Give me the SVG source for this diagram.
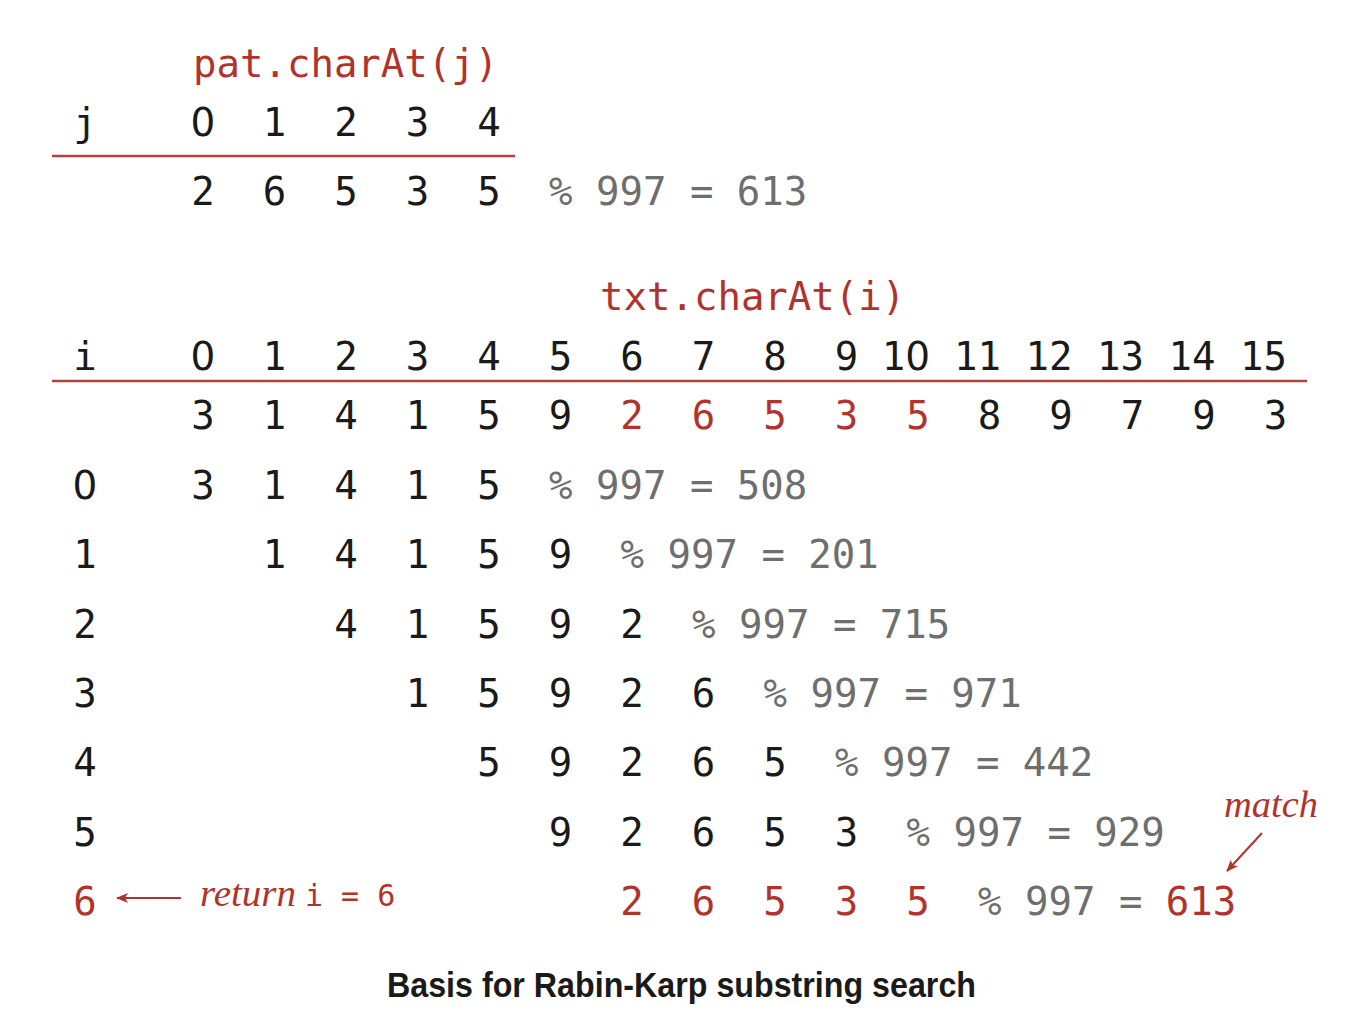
<svg xmlns="http://www.w3.org/2000/svg" width="1364" height="1036" viewBox="0 0 1364 1036">
<style>
.m{font-family:"DejaVu Sans Mono","Liberation Mono",monospace;font-size:39px;fill:#1a1a1a;text-anchor:middle}
.z{font-family:"DejaVu Sans",sans-serif}
.r{fill:#b0332c}
.g{fill:#6e6e6e;text-anchor:start}
.s{text-anchor:start}
.it{font-family:"Liberation Serif",serif;font-style:italic;font-size:37px;fill:#b0332c}
.rule{stroke:#b5433c;stroke-width:2.5}
.cap{font-family:"Liberation Sans",Arial,sans-serif;font-weight:bold;font-size:35px;fill:#1a1a1a}
</style>
<defs>
<marker id="ah" viewBox="0 0 12 10" refX="11" refY="5" markerWidth="12" markerHeight="10" markerUnits="userSpaceOnUse" orient="auto">
<path d="M0,0 L12,5 L0,10 L3,5 Z" fill="#b0332c"/>
</marker>
</defs>
<g id="pattern">
<text class="m r s" x="193" y="77">pat.charAt(j)</text>
<text class="m" x="85" y="136">j</text>
<text class="m z" x="203" y="136">0</text>
<text class="m" x="274.5" y="136">1</text>
<text class="m" x="346" y="136">2</text>
<text class="m" x="417.5" y="136">3</text>
<text class="m" x="489" y="136">4</text>
<line class="rule" x1="52" y1="156" x2="515" y2="156"/>
<text class="m" x="203" y="205">2</text>
<text class="m" x="274.5" y="205">6</text>
<text class="m" x="346" y="205">5</text>
<text class="m" x="417.5" y="205">3</text>
<text class="m" x="489" y="205">5</text>
<text class="m g" x="549" y="205">% 997 = 613</text>
</g>
<g id="text-header">
<text class="m r s" x="600" y="310">txt.charAt(i)</text>
<text class="m" x="85" y="370">i</text>
<text class="m z" x="203" y="370">0</text>
<text class="m" x="274.5" y="370">1</text>
<text class="m" x="346" y="370">2</text>
<text class="m" x="417.5" y="370">3</text>
<text class="m" x="489" y="370">4</text>
<text class="m" x="560.5" y="370">5</text>
<text class="m" x="632" y="370">6</text>
<text class="m" x="703.5" y="370">7</text>
<text class="m" x="775" y="370">8</text>
<text class="m" x="846.5" y="370">9</text>
<text class="m" x="906" y="370">1<tspan class="z">0</tspan></text>
<text class="m" x="977.5" y="370">11</text>
<text class="m" x="1049" y="370">12</text>
<text class="m" x="1120.5" y="370">13</text>
<text class="m" x="1192" y="370">14</text>
<text class="m" x="1263.5" y="370">15</text>
<line class="rule" x1="52" y1="381" x2="1307" y2="381"/>
<text class="m" x="203" y="429">3</text>
<text class="m" x="274.5" y="429">1</text>
<text class="m" x="346" y="429">4</text>
<text class="m" x="417.5" y="429">1</text>
<text class="m" x="489" y="429">5</text>
<text class="m" x="560.5" y="429">9</text>
<text class="m r" x="632" y="429">2</text>
<text class="m r" x="703.5" y="429">6</text>
<text class="m r" x="775" y="429">5</text>
<text class="m r" x="846.5" y="429">3</text>
<text class="m r" x="918" y="429">5</text>
<text class="m" x="989.5" y="429">8</text>
<text class="m" x="1061" y="429">9</text>
<text class="m" x="1132.5" y="429">7</text>
<text class="m" x="1204" y="429">9</text>
<text class="m" x="1275.5" y="429">3</text>
</g>
<g id="row0">
<text class="m z" x="85" y="499">0</text>
<text class="m" x="203" y="499">3</text>
<text class="m" x="274.5" y="499">1</text>
<text class="m" x="346" y="499">4</text>
<text class="m" x="417.5" y="499">1</text>
<text class="m" x="489" y="499">5</text>
<text class="m g" x="549" y="499">% 997 = 508</text>
</g>
<g id="row1">
<text class="m" x="85" y="568">1</text>
<text class="m" x="274.5" y="568">1</text>
<text class="m" x="346" y="568">4</text>
<text class="m" x="417.5" y="568">1</text>
<text class="m" x="489" y="568">5</text>
<text class="m" x="560.5" y="568">9</text>
<text class="m g" x="620.5" y="568">% 997 = 201</text>
</g>
<g id="row2">
<text class="m" x="85" y="638">2</text>
<text class="m" x="346" y="638">4</text>
<text class="m" x="417.5" y="638">1</text>
<text class="m" x="489" y="638">5</text>
<text class="m" x="560.5" y="638">9</text>
<text class="m" x="632" y="638">2</text>
<text class="m g" x="692" y="638">% 997 = 715</text>
</g>
<g id="row3">
<text class="m" x="85" y="707">3</text>
<text class="m" x="417.5" y="707">1</text>
<text class="m" x="489" y="707">5</text>
<text class="m" x="560.5" y="707">9</text>
<text class="m" x="632" y="707">2</text>
<text class="m" x="703.5" y="707">6</text>
<text class="m g" x="763.5" y="707">% 997 = 971</text>
</g>
<g id="row4">
<text class="m" x="85" y="776">4</text>
<text class="m" x="489" y="776">5</text>
<text class="m" x="560.5" y="776">9</text>
<text class="m" x="632" y="776">2</text>
<text class="m" x="703.5" y="776">6</text>
<text class="m" x="775" y="776">5</text>
<text class="m g" x="835" y="776">% 997 = 442</text>
</g>
<g id="row5">
<text class="m" x="85" y="846">5</text>
<text class="m" x="560.5" y="846">9</text>
<text class="m" x="632" y="846">2</text>
<text class="m" x="703.5" y="846">6</text>
<text class="m" x="775" y="846">5</text>
<text class="m" x="846.5" y="846">3</text>
<text class="m g" x="906.5" y="846">% 997 = 929</text>
</g>
<g id="row6">
<text class="m r" x="85" y="915">6</text>
<text class="it" x="200" y="906" textLength="96" lengthAdjust="spacingAndGlyphs">return</text>
<text class="m r s" x="305" y="906" style="font-size:30px">i = 6</text>
<text class="m r" x="632" y="915">2</text>
<text class="m r" x="703.5" y="915">6</text>
<text class="m r" x="775" y="915">5</text>
<text class="m r" x="846.5" y="915">3</text>
<text class="m r" x="918" y="915">5</text>
<text class="m g" x="978" y="915">% 997 = <tspan class="r">613</tspan></text>
</g>
<g id="match-label">
<text class="it" x="1224" y="817" textLength="94" lengthAdjust="spacingAndGlyphs">match</text>
</g>
<g id="connectors">
<line x1="181" y1="898" x2="117" y2="898" stroke="#b0332c" stroke-width="2" marker-end="url(#ah)"/>
<line x1="1262" y1="833" x2="1227" y2="871" stroke="#b0332c" stroke-width="2" marker-end="url(#ah)"/>
</g>
<g id="caption">
<text class="cap" x="387" y="997" textLength="589" lengthAdjust="spacingAndGlyphs">Basis for Rabin-Karp substring search</text>
</g>
</svg>
